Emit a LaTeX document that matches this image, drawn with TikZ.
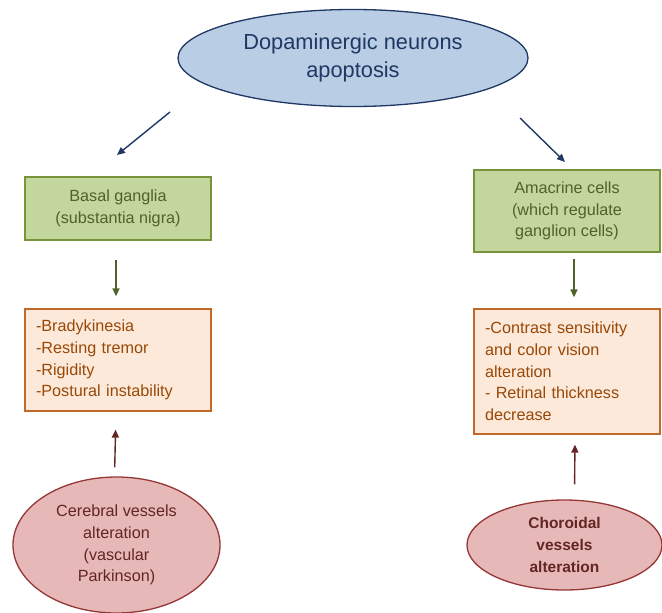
\documentclass[tikz,border=0pt]{standalone}
\usepackage{fontspec}
\setmainfont{Liberation Sans}
\usetikzlibrary{arrows.meta,shapes.geometric}

\definecolor{apopfill}{RGB}{185,205,229}
\definecolor{apopline}{RGB}{31,56,100}
\definecolor{gangfill}{RGB}{195,214,155}
\definecolor{gangline}{RGB}{119,147,60}
\definecolor{gangtext}{RGB}{79,98,40}
\definecolor{sympfill}{RGB}{253,233,217}
\definecolor{sympline}{RGB}{192,105,43}
\definecolor{symptext}{RGB}{152,72,7}
\definecolor{vessfill}{RGB}{230,185,184}
\definecolor{vessline}{RGB}{149,55,53}
\definecolor{vesstext}{RGB}{99,37,35}

\begin{document}
\begin{tikzpicture}[x=1pt,y=-1pt,
	every node/.style={font=\fontsize{16.2}{21.7}\selectfont, inner sep=0pt, align=center},
	apop/.style={ellipse, draw=apopline, fill=apopfill, line width=1.3pt, text=apopline, font=\fontsize{21.8}{28}\selectfont},
	gang/.style={rectangle, draw=gangline, fill=gangfill, line width=1.3pt, text=gangtext, minimum width=186pt},
	symp/.style={rectangle, draw=sympline, fill=sympfill, line width=1.3pt, text=symptext, text width=164pt, align=left, inner xsep=11pt},
	vess/.style={ellipse, draw=vessline, fill=vessfill, line width=1.3pt, text=vesstext},
	barrow/.style={draw=apopline, line width=1.4pt, -{Triangle[length=8pt,width=7pt]}},
	garrow/.style={draw=gangtext, line width=1.4pt, -{Triangle[length=8pt,width=7pt]}},
	varrow/.style={draw=vesstext, line width=1.4pt, -{Triangle[length=8pt,width=7pt]}}]
	\useasboundingbox (0,0) rectangle (662,613);
	\node[apop, minimum width=350pt, minimum height=97pt] (apop) at (353,58) {Dopaminergic neurons\\apoptosis};
	\node[gang, minimum height=63pt] (basal) at (118,208.5) {Basal ganglia\\(substantia nigra)};
	\node[gang, minimum height=82pt] (amac) at (567,211) {Amacrine cells\\(which regulate\\ganglion cells)};
	\node[symp, minimum height=102pt] (sympL) at (118,360) {-Bradykinesia\\-Resting tremor\\-Rigidity\\-Postural instability};
	\node[symp, minimum height=125pt] (sympR) at (567,371.5) {-Contrast sensitivity\\and color vision\\alteration\\- Retinal thickness\\decrease};
	\node[vess, minimum width=207pt, minimum height=136pt] (cereb) at (116.5,545) {Cerebral vessels\\alteration\\(vascular\\Parkinson)};
	\node[vess, minimum width=195pt, minimum height=90pt, font=\fontsize{15.5}{21.7}\selectfont\bfseries] (chor) at (564.5,545) {Choroidal\\vessels\\alteration};
	\coordinate (apopL) at (170,112);
	\coordinate (basalT) at (117,155);
	\coordinate (apopR) at (520,118);
	\coordinate (amacT) at (565,162);
	\draw[barrow] (apopL) -- (basalT);
	\draw[barrow] (apopR) -- (amacT);
	\draw[garrow, shorten <=19pt, shorten >=12pt] ([xshift=-2pt]basal.south) -- ([xshift=-2pt]sympL.north);
	\draw[garrow, shorten <=6pt, shorten >=11pt] ([xshift=7pt]amac.south) -- ([xshift=7pt]sympR.north);
	\draw[varrow, shorten <=9pt, shorten >=18pt] ([xshift=-2pt]cereb.north) -- ([xshift=-2pt]sympL.south);
	\draw[varrow, shorten <=15pt, shorten >=10pt] ([xshift=10pt]chor.north) -- ([xshift=8pt]sympR.south);
\end{tikzpicture}
\end{document}
